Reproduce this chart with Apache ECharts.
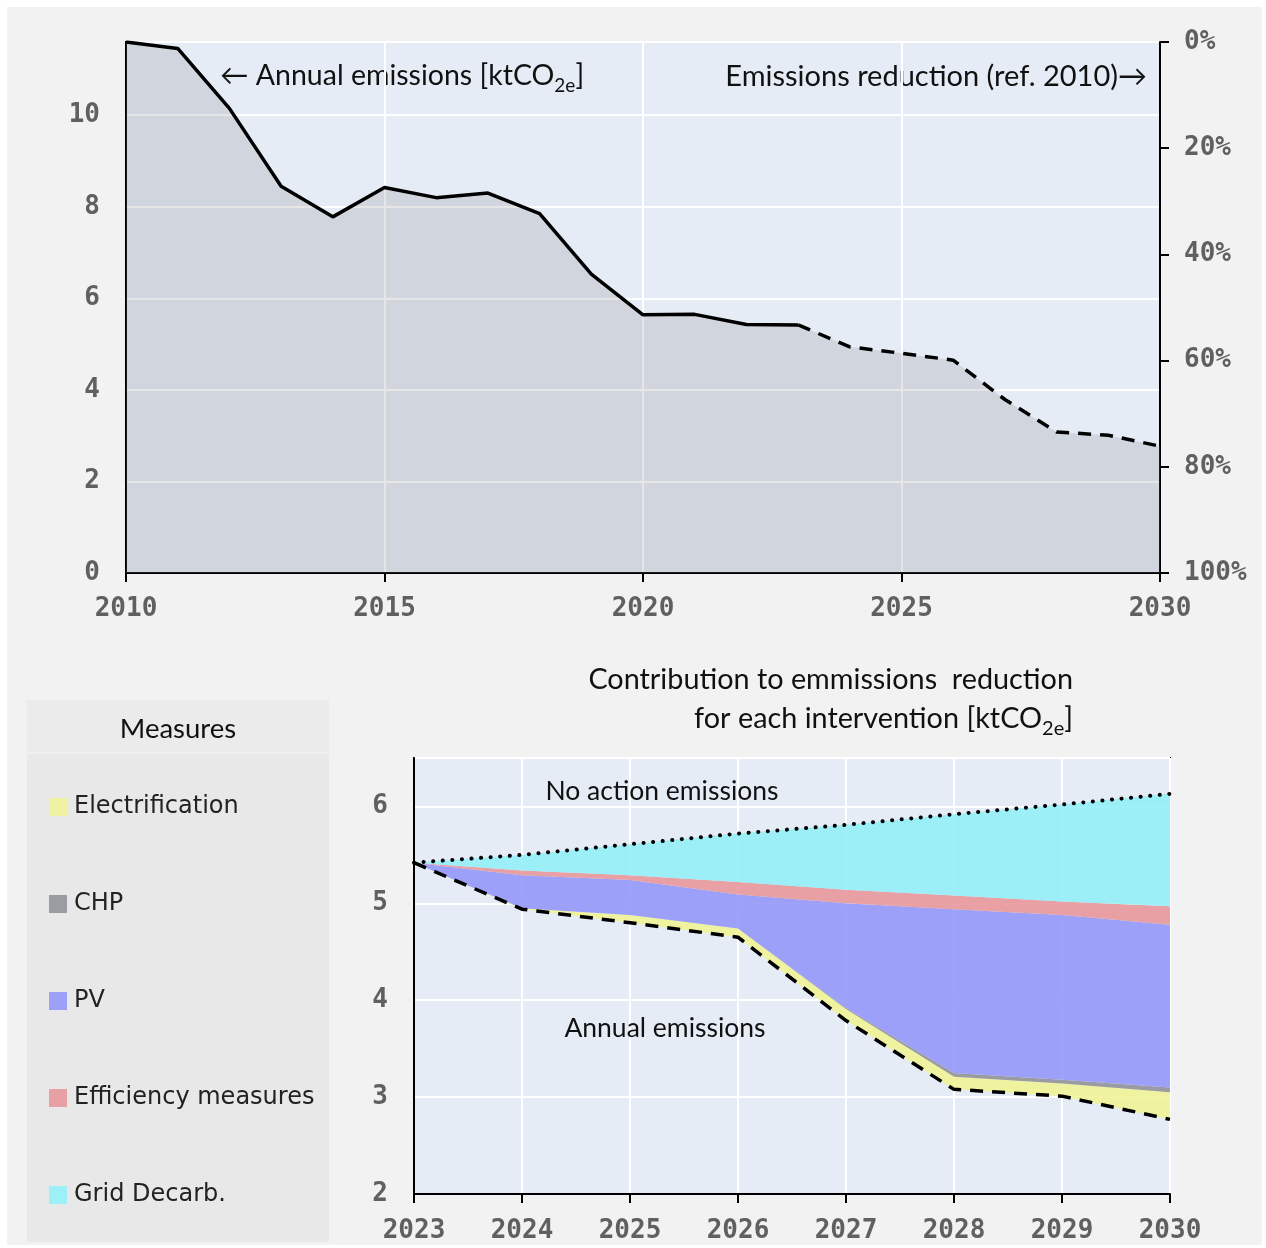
<!DOCTYPE html>
<html>
<head>
<meta charset="utf-8">
<script src="https://cdn.jsdelivr.net/npm/echarts@6/dist/echarts.min.js"></script>
<style>
  html, body { margin: 0; padding: 0; background: #fff; }
  #chart {
    width: 1266px; height: 1248px;
    background: linear-gradient(#f2f2f2, #f2f2f2) no-repeat 7px 7px / 1255px 1238px, #fff;
  }
</style>
</head>
<body>
<div id="chart"></div>
<script>
// Annual emissions [ktCO2e], measured up to 2023 and projected after
const years = [2010, 2011, 2012, 2013, 2014, 2015, 2016, 2017, 2018, 2019, 2020,
               2021, 2022, 2023, 2024, 2025, 2026, 2027, 2028, 2029, 2030];
const emissions = [11.6, 11.46, 10.15, 8.45, 7.78, 8.42, 8.20, 8.30, 7.85, 6.53, 5.64,
                   5.65, 5.43, 5.42, 4.94, 4.80, 4.65, 3.79, 3.08, 3.01, 2.77];
const lastMeasuredYear = 2023;

// Reduction of each intervention per plan year [ktCO2e]
const planYears = ['2023', '2024', '2025', '2026', '2027', '2028', '2029', '2030'];
const electrification = [0, 0.01, 0.08, 0.09, 0.12, 0.13, 0.13, 0.28];
const chp             = [0, 0.00, 0.00, 0.00, 0.01, 0.04, 0.04, 0.05];
const pv              = [0, 0.34, 0.36, 0.35, 1.08, 1.69, 1.70, 1.68];
const efficiency      = [0, 0.05, 0.05, 0.13, 0.14, 0.14, 0.14, 0.19];
const gridDecarb      = [0, 0.16, 0.32, 0.50, 0.67, 0.84, 1.00, 1.16];

const measureNames = ['Electrification', 'CHP', 'PV', 'Efficiency measures', 'Grid Decarb.'];
const measureValues = [electrification, chp, pv, efficiency, gridDecarb];
const measureColors = ['#eef2a0', '#9a9ca2', '#9ca0f8', '#e9a0a5', '#9cf0f7'];
const measureFills  = ['rgba(239,243,150,0.9)', 'rgba(146,147,153,0.9)', 'rgba(148,152,248,0.9)',
                       'rgba(233,152,156,0.9)', 'rgba(148,240,247,0.9)'];

// Derived series
const startIdx = years.indexOf(Number(planYears[0]));
const planAnnual = emissions.slice(startIdx, startIdx + planYears.length);
const noAction = planAnnual.map((v, i) =>
  +(v + measureValues.reduce((s, arr) => s + arr[i], 0)).toFixed(3));

const pts = years.map((y, i) => [y, emissions[i]]);
const measured = pts.filter(p => p[0] <= lastMeasuredYear);
const projected = pts.filter(p => p[0] >= lastMeasuredYear);

const tickFont = { fontFamily: 'DejaVu Sans Mono', fontWeight: 'bold', fontSize: 26, color: '#606060' };
const textFont = 'Lato';
const blackAxis = { show: true, lineStyle: { color: '#000', width: 2 } };
const whiteSplit = { show: true, lineStyle: { color: '#fff', width: 2 } };

// rich styles: normal text plus a lowered, smaller subscript
function subText(size) {
  const sub = Math.round(size * 0.68);
  return {
    n: { fontFamily: textFont, fontSize: size, lineHeight: size + 10, fill: '#111', color: '#111' },
    s: { fontFamily: textFont, fontSize: sub, lineHeight: sub, verticalAlign: 'bottom', fill: '#111', color: '#111' }
  };
}

const chart = echarts.init(document.getElementById('chart'), null, { renderer: 'canvas' });

const stackSeries = measureNames.map((name, k) => ({
  name: name,
  type: 'line',
  xAxisIndex: 1, yAxisIndex: 2,
  stack: 'plan',
  data: measureValues[k],
  symbol: 'none',
  lineStyle: { width: 0 },
  itemStyle: { color: measureColors[k] },
  areaStyle: { color: measureFills[k], opacity: 1 },
  silent: true,
  z: 2
}));

const option = {
  animation: false,
  grid: [
    { left: 126, top: 42, width: 1034, height: 531, show: true,
      backgroundColor: '#e5ecf6', borderColor: '#000', borderWidth: 2 },
    { left: 414, top: 758, width: 756, height: 436, show: true,
      backgroundColor: '#e5ecf6', borderColor: '#000', borderWidth: 2 }
  ],
  xAxis: [
    { gridIndex: 0, type: 'value', min: 2010, max: 2030, interval: 5,
      axisLine: blackAxis,
      axisTick: { show: true, length: 9, lineStyle: { color: '#000', width: 2 } },
      axisLabel: Object.assign({ margin: 23, formatter: v => String(v) }, tickFont),
      splitLine: whiteSplit },
    { gridIndex: 1, type: 'category', data: planYears, boundaryGap: false,
      axisLine: blackAxis,
      axisTick: { show: true, length: 9, alignWithLabel: true, lineStyle: { color: '#000', width: 2 } },
      axisLabel: Object.assign({ margin: 24 }, tickFont),
      splitLine: whiteSplit }
  ],
  yAxis: [
    { gridIndex: 0, type: 'value', min: 0, max: emissions[0], interval: 2,
      axisLine: blackAxis, axisTick: { show: false },
      axisLabel: Object.assign({ margin: 26, showMaxLabel: false }, tickFont),
      splitLine: whiteSplit },
    { gridIndex: 0, type: 'value', position: 'right', min: 0, max: 100, interval: 20, inverse: true,
      axisLine: blackAxis,
      axisTick: { show: true, length: 9, lineStyle: { color: '#000', width: 2 } },
      axisLabel: Object.assign({ margin: 24, formatter: '{value}%' }, tickFont),
      splitLine: { show: false } },
    { gridIndex: 1, type: 'value', min: 2, max: 6.5, interval: 1,
      axisLine: blackAxis, axisTick: { show: false },
      axisLabel: Object.assign({ margin: 26, showMaxLabel: false }, tickFont),
      splitLine: whiteSplit }
  ],
  legend: {
    data: measureNames,
    selectedMode: false,
    orient: 'vertical',
    left: 44, top: 790,
    icon: 'rect',
    itemWidth: 18, itemHeight: 18,
    itemGap: 73,
    textStyle: { fontFamily: 'DejaVu Sans', fontSize: 24, color: '#222', padding: [0, 0, 0, 2] }
  },
  series: [
    // top: area under the emissions trajectory
    { type: 'line', xAxisIndex: 0, yAxisIndex: 0, data: pts, symbol: 'none',
      lineStyle: { width: 0 }, areaStyle: { color: 'rgba(128,128,128,0.2)', opacity: 1 },
      silent: true, z: 2 },
    { type: 'line', xAxisIndex: 0, yAxisIndex: 0, data: measured, symbol: 'none',
      lineStyle: { color: '#000', width: 3.5 }, silent: true, z: 4 },
    { type: 'line', xAxisIndex: 0, yAxisIndex: 0, data: projected, symbol: 'none',
      lineStyle: { color: '#000', width: 3.5, type: [13, 9] }, silent: true, z: 4 },
    // bottom: invisible base of the stack (annual emissions)
    { name: 'base', type: 'line', xAxisIndex: 1, yAxisIndex: 2, stack: 'plan', data: planAnnual,
      symbol: 'none', lineStyle: { width: 0, opacity: 0 }, silent: true, z: 2 },
    ...stackSeries,
    { type: 'line', xAxisIndex: 1, yAxisIndex: 2, data: planAnnual, symbol: 'none',
      lineStyle: { color: '#000', width: 3.5, type: [13, 9] }, silent: true, z: 5 },
    { type: 'line', xAxisIndex: 1, yAxisIndex: 2, data: noAction, symbol: 'none',
      lineStyle: { color: '#000', width: 4, type: [0.1, 9.5], cap: 'round' }, silent: true, z: 5 }
  ],
  graphic: [
    // legend panel
    { type: 'rect', shape: { x: 27, y: 700, width: 302, height: 542 }, style: { fill: '#e8e8e8' }, z: -10, silent: true },
    { type: 'rect', shape: { x: 27, y: 700, width: 302, height: 52 }, style: { fill: '#ebebeb' }, z: -9, silent: true },
    { type: 'line', shape: { x1: 27, y1: 753, x2: 329, y2: 753 }, style: { stroke: '#f0f0f0', lineWidth: 2 }, z: -9, silent: true },
    { type: 'text', x: 178, y: 729, silent: true,
      style: { text: 'Measures', font: '27.5px Lato', fill: '#111', textAlign: 'center', textVerticalAlign: 'middle' } },
    // top chart captions
    { type: 'text', x: 220, y: 76, silent: true,
      style: { text: '{n|← Annual emissions [ktCO}{s|2e}{n|]}', rich: subText(28.5),
               textAlign: 'left', textVerticalAlign: 'middle' } },
    { type: 'text', x: 1147, y: 77, silent: true,
      style: { text: 'Emissions reduction (ref. 2010)→', font: '29px Lato', fill: '#111',
               textAlign: 'right', textVerticalAlign: 'middle' } },
    // bottom chart title
    { type: 'text', x: 1073, y: 680, silent: true,
      style: { text: 'Contribution to emmissions  reduction', font: '28.8px Lato', fill: '#111',
               textAlign: 'right', textVerticalAlign: 'middle' } },
    { type: 'text', x: 1073, y: 719, silent: true,
      style: { text: '{n|for each intervention [ktCO}{s|2e}{n|]}', rich: subText(28.8),
               textAlign: 'right', textVerticalAlign: 'middle' } },
    // in-plot labels
    { type: 'text', x: 662, y: 791, z: 10, silent: true,
      style: { text: 'No action emissions', font: '26.5px Lato', fill: '#111',
               textAlign: 'center', textVerticalAlign: 'middle' } },
    { type: 'text', x: 665, y: 1028, z: 10, silent: true,
      style: { text: 'Annual emissions', font: '26.5px Lato', fill: '#111',
               textAlign: 'center', textVerticalAlign: 'middle' } }
  ]
};

chart.setOption(option);
</script>
</body>
</html>
